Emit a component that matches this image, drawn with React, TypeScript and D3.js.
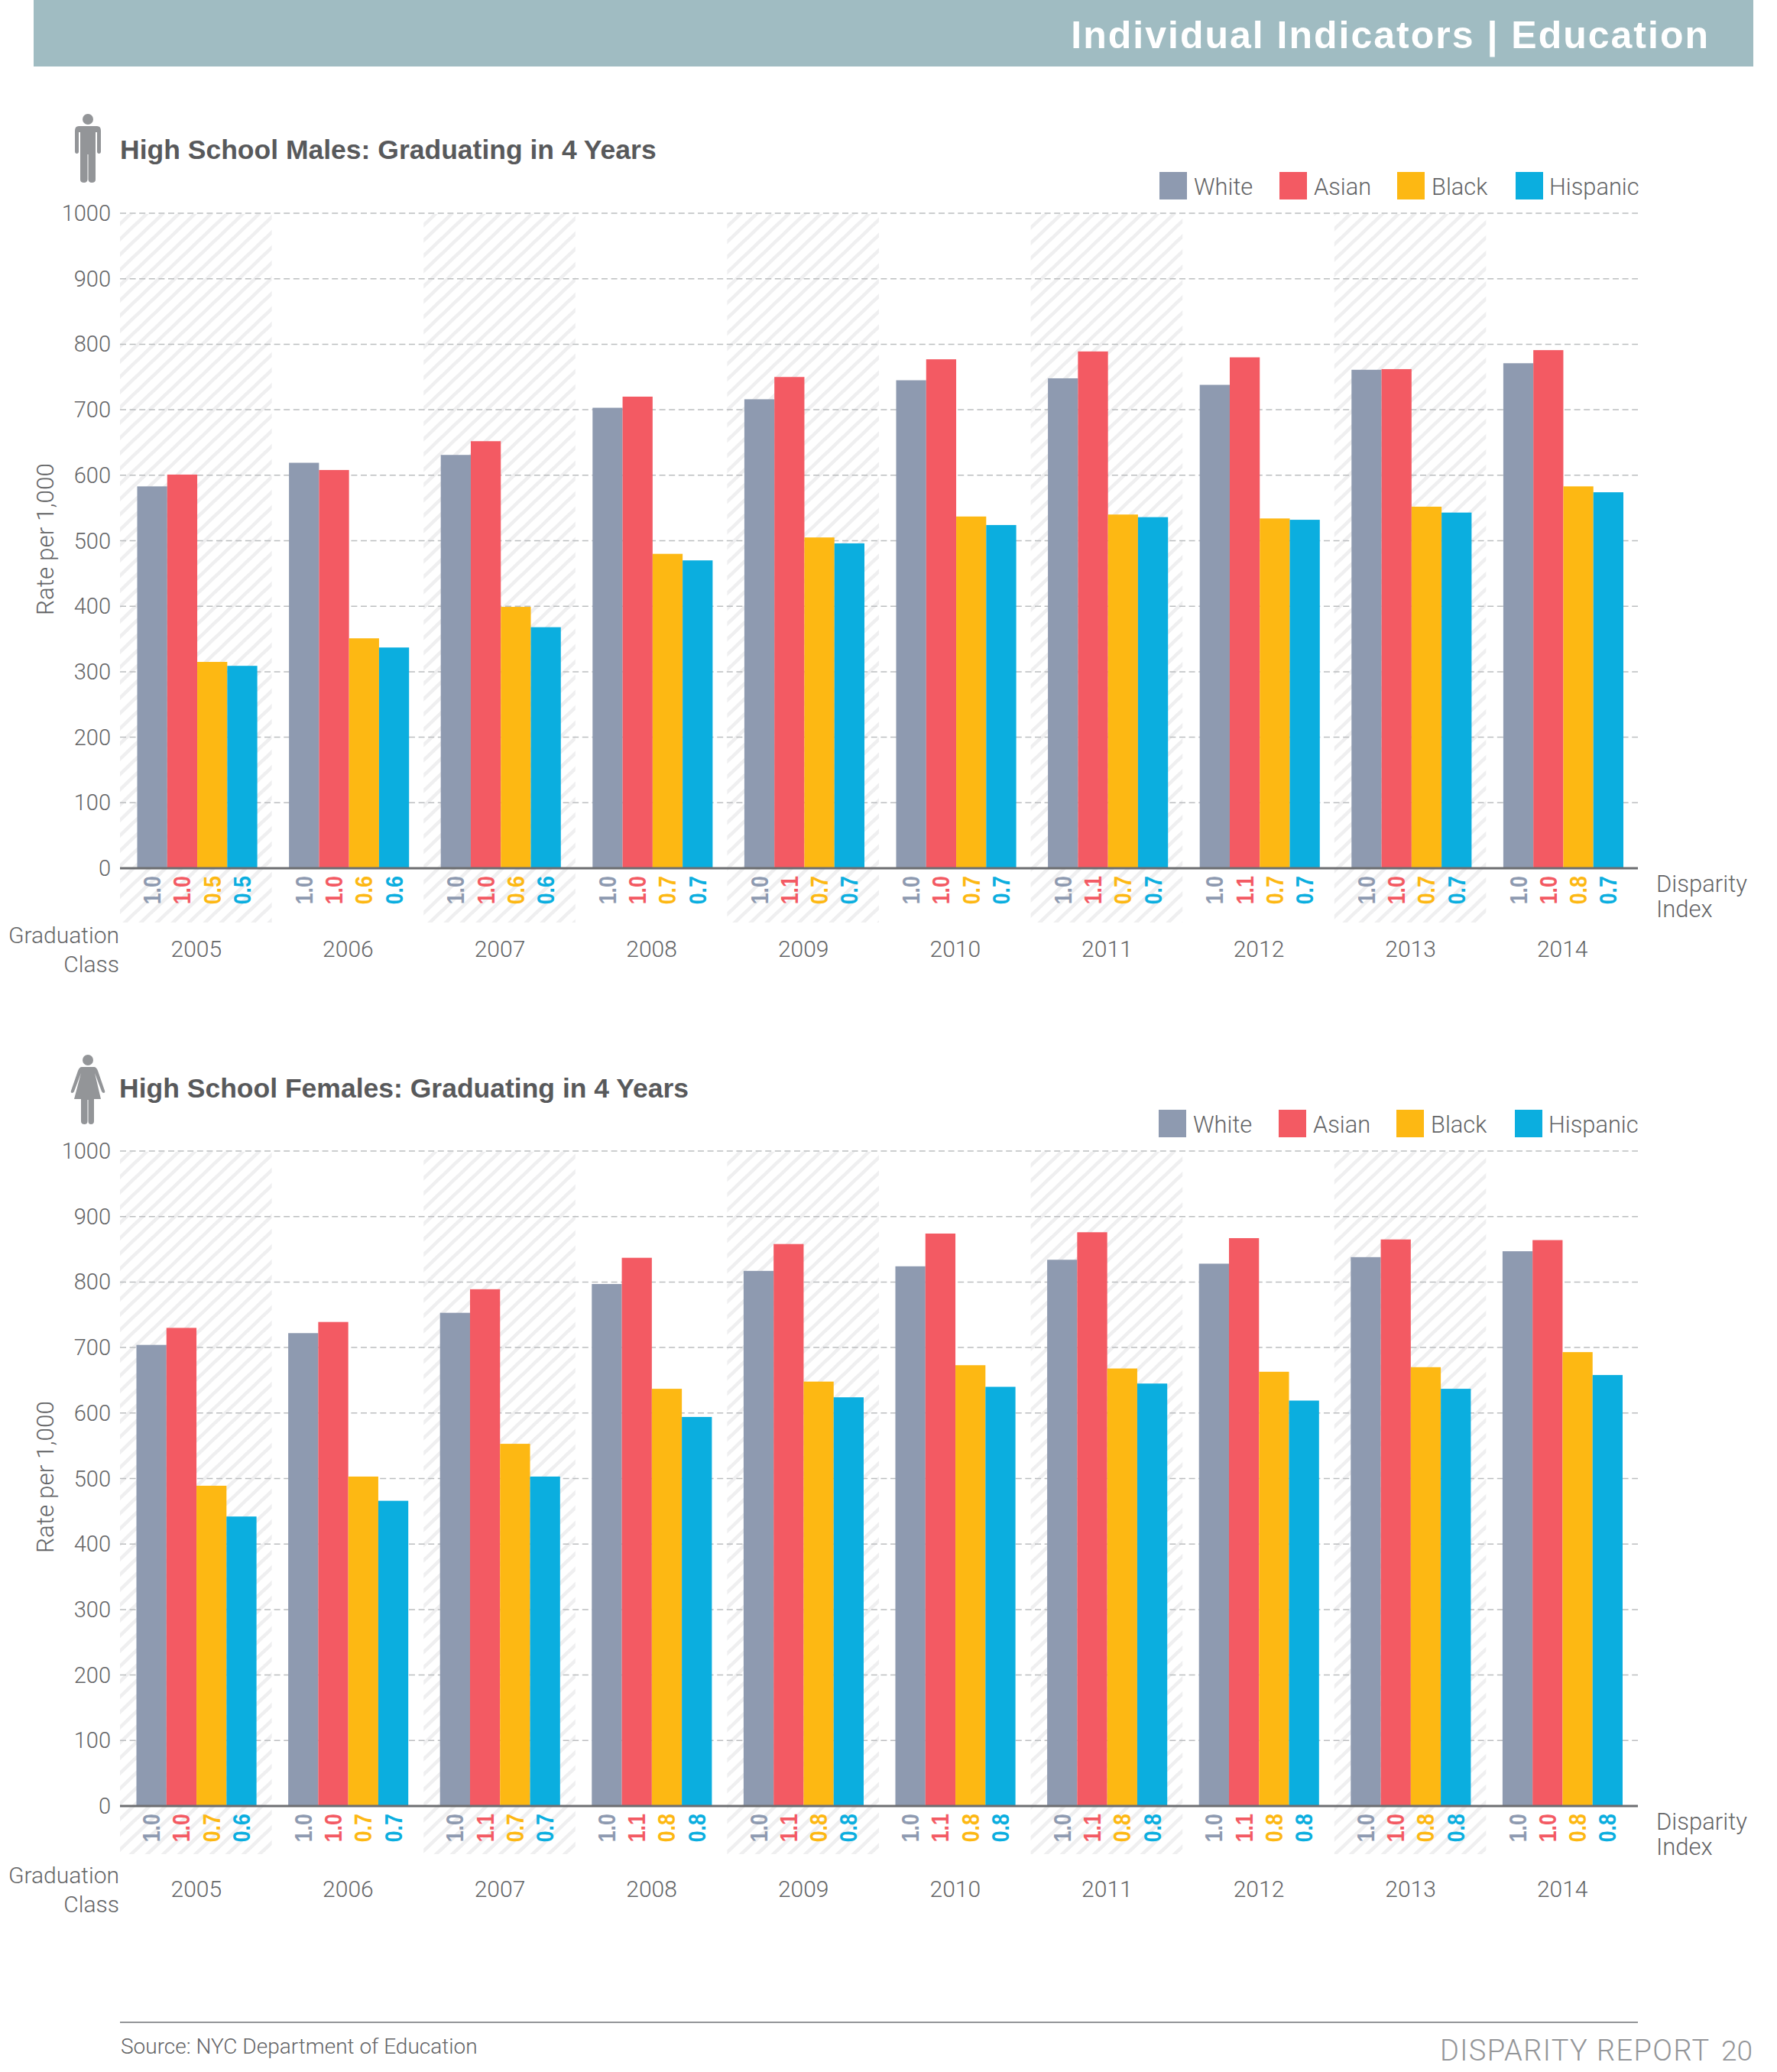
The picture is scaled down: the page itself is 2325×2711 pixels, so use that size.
import React from "react";
import * as d3 from "d3";

const years = ["2005","2006","2007","2008","2009","2010","2011","2012","2013","2014"];
const seriesNames = ["White","Asian","Black","Hispanic"];
const seriesColors = ["#8E9AB0","#F35A63","#FDB813","#0BAEDF"];
const yTicks = [0,100,200,300,400,500,600,700,800,900,1000];

const maleWhite = [583,619,631,703,716,745,748,738,761,771];
const maleAsian = [601,608,652,720,750,777,789,780,762,791];
const maleBlack = [315,351,399,480,505,537,540,534,552,583];
const maleHispanic = [309,337,368,470,496,524,536,532,543,574];

const femaleWhite = [704,722,753,797,817,824,834,828,838,847];
const femaleAsian = [730,739,789,837,858,874,876,867,865,864];
const femaleBlack = [489,503,553,637,648,673,668,663,670,693];
const femaleHispanic = [442,466,503,594,624,640,645,619,637,658];

const maleIdxWhite = ["1.0","1.0","1.0","1.0","1.0","1.0","1.0","1.0","1.0","1.0"];
const maleIdxAsian = ["1.0","1.0","1.0","1.0","1.1","1.0","1.1","1.1","1.0","1.0"];
const maleIdxBlack = ["0.5","0.6","0.6","0.7","0.7","0.7","0.7","0.7","0.7","0.8"];
const maleIdxHispanic = ["0.5","0.6","0.6","0.7","0.7","0.7","0.7","0.7","0.7","0.7"];

const femaleIdxWhite = ["1.0","1.0","1.0","1.0","1.0","1.0","1.0","1.0","1.0","1.0"];
const femaleIdxAsian = ["1.0","1.0","1.1","1.1","1.1","1.1","1.1","1.1","1.0","1.0"];
const femaleIdxBlack = ["0.7","0.7","0.7","0.8","0.8","0.8","0.8","0.8","0.8","0.8"];
const femaleIdxHispanic = ["0.6","0.7","0.7","0.8","0.8","0.8","0.8","0.8","0.8","0.8"];

const LIGHT = "Roboto, 'Liberation Sans', sans-serif";
const BOLD = "'Liberation Sans', Arial, sans-serif";
const TEXT = "#636466";

const plotL = 157, plotR = 2143;
const xGroup = d3.scaleBand<string>().domain(years).range([plotL, plotR]);
const legendX = [1517, 1674, 1828, 1983];
const legendTextX = [1562, 1719, 1873, 2027];
const HATCH_PATH = "M-7,27 L28,-7 M-7,7 L7,-7 M14,27 L28,13";

function Panel({ top, title, titleX, titleBaseline, values, indices, dx, hatchId, hatchDepth, labelShift, legendDx }: any) {
  const y0 = top + 857;
  const y = d3.scaleLinear().domain([0, 1000]).range([y0, top]);
  const xSeries = d3.scaleBand<string>().domain(seriesNames).range([22.5 + dx, 179.6 + dx]);
  const hatchBottom = y0 + hatchDepth;
  return (
    <g>
      <text x={titleX} y={titleBaseline} fontFamily={BOLD} fontWeight={700} fontSize={35.5} fill="#58595B">{title}</text>
      {seriesNames.map((s, i) => (
        <g key={s}>
          <rect x={legendX[i] + legendDx} y={top - 54} width={36} height={36} fill={seriesColors[i]} />
          <text x={legendTextX[i] + legendDx} y={top - 24} fontFamily={LIGHT} fontWeight={300} fontSize={30.8} fill={TEXT}>{s}</text>
        </g>
      ))}
      {years.map((yr, i) => i % 2 === 0 && (
        <rect key={yr} x={xGroup(yr)} y={top + 1} width={xGroup.bandwidth()} height={hatchBottom - top - 1} fill={`url(#${hatchId})`} />
      ))}
      {yTicks.filter(t => t > 0).map(t => (
        <line key={t} x1={plotL} x2={plotR} y1={y(t)} y2={y(t)} stroke="#BCBEC0" strokeWidth={1.5} strokeDasharray="8 4.6" />
      ))}
      {yTicks.map(t => (
        <text key={t} x={145} y={y(t) + 10} textAnchor="end" fontFamily={LIGHT} fontWeight={300} fontSize={29} fill={TEXT}>{t}</text>
      ))}
      <text transform={`translate(70,${y(500) - 2}) rotate(-90)`} textAnchor="middle" fontFamily={LIGHT} fontWeight={300} fontSize={31.5} fill={TEXT}>Rate per 1,000</text>
      {years.map((yr, yi) => seriesNames.map((s, si) => (
        <rect key={s} x={xGroup(yr)! + xSeries(s)!} y={y(values[si][yi])} width={xSeries.bandwidth()} height={y0 - y(values[si][yi])} fill={seriesColors[si]} />
      )))}
      <line x1={plotL} x2={plotR} y1={y0} y2={y0} stroke="#6D6E71" strokeWidth={3} />
      {years.map((yr, yi) => seriesNames.map((s, si) => {
        const cx = xGroup(yr)! + xSeries(s)! + xSeries.bandwidth() / 2;
        return (
          <text key={s} transform={`translate(${cx + 11},${y0 + 10}) rotate(-90) scale(0.88,1)`} textAnchor="end" fontFamily={BOLD} fontWeight={700} fontSize={30.5} fill={seriesColors[si]}>{indices[si][yi]}</text>
        );
      }))}
      {years.map(yr => (
        <text key={yr} x={xGroup(yr)! + xGroup.bandwidth() / 2 + 0.5} y={y0 + 116 + labelShift} textAnchor="middle" fontFamily={LIGHT} fontWeight={300} fontSize={30} fill={TEXT}>{yr}</text>
      ))}
      <text x={156} y={y0 + 98 + labelShift} textAnchor="end" fontFamily={LIGHT} fontWeight={300} fontSize={30} fill={TEXT}>Graduation</text>
      <text x={156} y={y0 + 136 + labelShift} textAnchor="end" fontFamily={LIGHT} fontWeight={300} fontSize={30} fill={TEXT}>Class</text>
      <text x={2167} y={y0 + 31} fontFamily={LIGHT} fontWeight={300} fontSize={31} fill={TEXT}>Disparity</text>
      <text x={2167} y={y0 + 64} fontFamily={LIGHT} fontWeight={300} fontSize={31} fill={TEXT}>Index</text>
    </g>
  );
}

function MaleIcon() {
  return (
    <g fill="#939598">
      <circle cx={115} cy={156} r={7} />
      <path d="M103,165 H127 Q132,165 132,171 V198 Q132,201 129.5,201 Q127,201 127,198 V173 H125 V235 Q125,239 120,239 Q116,239 115.5,235 V202 H114.5 V235 Q114,239 110,239 Q105,239 105,235 V173 H103 V198 Q103,201 100.5,201 Q98,201 98,198 V171 Q98,165 103,165 Z" />
    </g>
  );
}

function FemaleIcon() {
  return (
    <g fill="#939598">
      <circle cx={115} cy={1387} r={7} />
      <path d="M107,1396 H123 Q126,1396 128,1401 L137,1427 Q138,1430 135.500,1430 Q134,1430 133,1428 L124,1404 L132,1438 H123 V1467 Q123,1471 119,1471 Q115.500,1471 115.500,1467 V1439 H114.500 V1467 Q114.500,1471 110.500,1471 Q106,1471 106,1467 V1438 H97 L106,1404 L97,1428 Q96,1430 94.500,1430 Q92,1430 93,1427 L102,1401 Q104,1396 107,1396 Z" />
    </g>
  );
}

export default function App() {
  return (
    <svg width={2325} height={2711} style={{ position: "absolute", left: 0, top: 0, background: "#fff" }}>
      <defs>
        <pattern id="hatch1" patternUnits="userSpaceOnUse" width={21} height={20} patternTransform="translate(157,273)">
          <path d={HATCH_PATH} stroke="#EFEFF0" strokeWidth={4.5} fill="none" />
        </pattern>
        <pattern id="hatch2" patternUnits="userSpaceOnUse" width={21} height={20} patternTransform="translate(157,1500)">
          <path d={HATCH_PATH} stroke="#EFEFF0" strokeWidth={4.5} fill="none" />
        </pattern>
      </defs>
      <rect x={44} y={0} width={2250} height={87} fill="#A0BCC2" />
      <text x={2237} y={63} textAnchor="end" fontFamily={BOLD} fontWeight={700} fontSize={50} letterSpacing={2} fill="#fff">Individual Indicators | Education</text>
      <MaleIcon />
      <Panel top={279} title="High School Males: Graduating in 4 Years" titleX={157} titleBaseline={208} dx={0} hatchId="hatch1" hatchDepth={71} labelShift={0} legendDx={0}
        values={[maleWhite, maleAsian, maleBlack, maleHispanic]}
        indices={[maleIdxWhite, maleIdxAsian, maleIdxBlack, maleIdxHispanic]} />
      <FemaleIcon />
      <Panel top={1506} title="High School Females: Graduating in 4 Years" titleX={156} titleBaseline={1436} dx={-1} hatchId="hatch2" hatchDepth={63} labelShift={3} legendDx={-1}
        values={[femaleWhite, femaleAsian, femaleBlack, femaleHispanic]}
        indices={[femaleIdxWhite, femaleIdxAsian, femaleIdxBlack, femaleIdxHispanic]} />
      <line x1={157} x2={2143} y1={2646} y2={2646} stroke="#939598" strokeWidth={2} />
      <text x={158} y={2687} fontFamily={LIGHT} fontWeight={300} fontSize={28} fill={TEXT}>Source: NYC Department of Education</text>
      <text x={1884} y={2696} fontFamily={LIGHT} fontWeight={300} fontSize={38} letterSpacing={1.4} fill="#939598">DISPARITY REPORT</text>
      <text x={2293} y={2696} textAnchor="end" fontFamily={LIGHT} fontWeight={300} fontSize={37} fill="#939598">20</text>
    </svg>
  );
}
